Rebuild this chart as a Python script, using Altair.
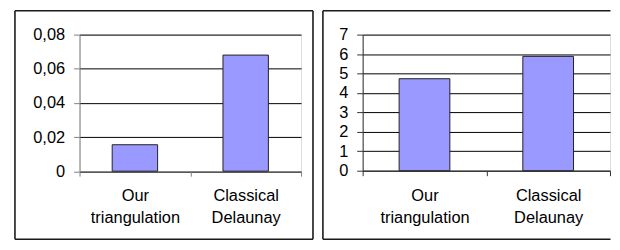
import altair as alt
import pandas as pd

categories = ["Our triangulation", "Classical Delaunay"]
left_values = [0.0155, 0.068]
right_values = [4.73, 5.88]

FONT = "Liberation Sans"
BAR_FILL = "#9999FF"
BORDER = "#1a1a1a"


def panel(values, domain, tick_step, label_expr, width, height, box, axis_col, close_right):
    df = pd.DataFrame({"cat": categories, "val": values})
    ticks = [round(i * tick_step, 4) for i in range(int(round(domain[1] / tick_step)) + 1)]
    bars = alt.Chart(df).mark_bar(
        fill=BAR_FILL, stroke="#222222", strokeWidth=1,
        width=alt.RelativeBandSize(0.41)
    ).encode(
        x=alt.X("cat:N", sort=categories, title=None,
                scale=alt.Scale(paddingInner=0, paddingOuter=0),
                axis=alt.Axis(labelAngle=0, tickBand="extent", tickSize=5,
                              tickColor=axis_col, domainColor=axis_col,
                              labelExpr="split(datum.label, ' ')",
                              labelFont=FONT, labelFontSize=16.5, labelColor="#000",
                              labelLineHeight=22, labelPadding=12,
                              labelBaseline="top", grid=False)),
        y=alt.Y("val:Q", title=None,
                scale=alt.Scale(domain=domain, nice=False, zero=True),
                axis=alt.Axis(values=ticks, labelExpr=label_expr, tickSize=6,
                              tickColor=axis_col, domainColor=axis_col,
                              gridColor="#000000", gridWidth=1, gridOpacity=1,
                              labelFont=FONT, labelFontSize=16.5, labelColor="#000",
                              labelPadding=9))
    )
    x0, x1 = box[0], width + box[1]
    y0, y1 = box[2], height + box[3]
    one = alt.Data(values=[{}])
    edges = [
        alt.Chart(one).mark_rule(stroke=BORDER, strokeWidth=1.6).encode(
            x=alt.value(x0), x2=alt.value(x1), y=alt.value(y0)),
        alt.Chart(one).mark_rule(stroke=BORDER, strokeWidth=1.6).encode(
            x=alt.value(x0), x2=alt.value(x1), y=alt.value(y1)),
        alt.Chart(one).mark_rule(stroke=BORDER, strokeWidth=1.6).encode(
            x=alt.value(x0), y=alt.value(y0), y2=alt.value(y1)),
    ]
    if close_right:
        edges.append(alt.Chart(one).mark_rule(stroke=BORDER, strokeWidth=1.6).encode(
            x=alt.value(x1), y=alt.value(y0), y2=alt.value(y1)))
    return alt.layer(bars, *edges).properties(width=width, height=height)


left = panel(left_values, [0, 0.08], 0.02,
             "datum.value == 0 ? '0' : replace(format(datum.value, '.2f'), '.', ',')",
             223, 137.5, (-65, 12, -24, 68.5), "#808080", True)
right = panel(right_values, [0, 7], 1, "format(datum.value, 'd')",
              249, 137, (-40, 0.5, -24, 69), "#333333", False)

chart = alt.hconcat(left, right, spacing=6).properties(
    padding={"left": 5, "top": 0, "right": 0, "bottom": 0}
).configure_view(stroke=None).configure(background="white")

chart.save("out.html", embed_options={"renderer": "svg", "actions": False})
